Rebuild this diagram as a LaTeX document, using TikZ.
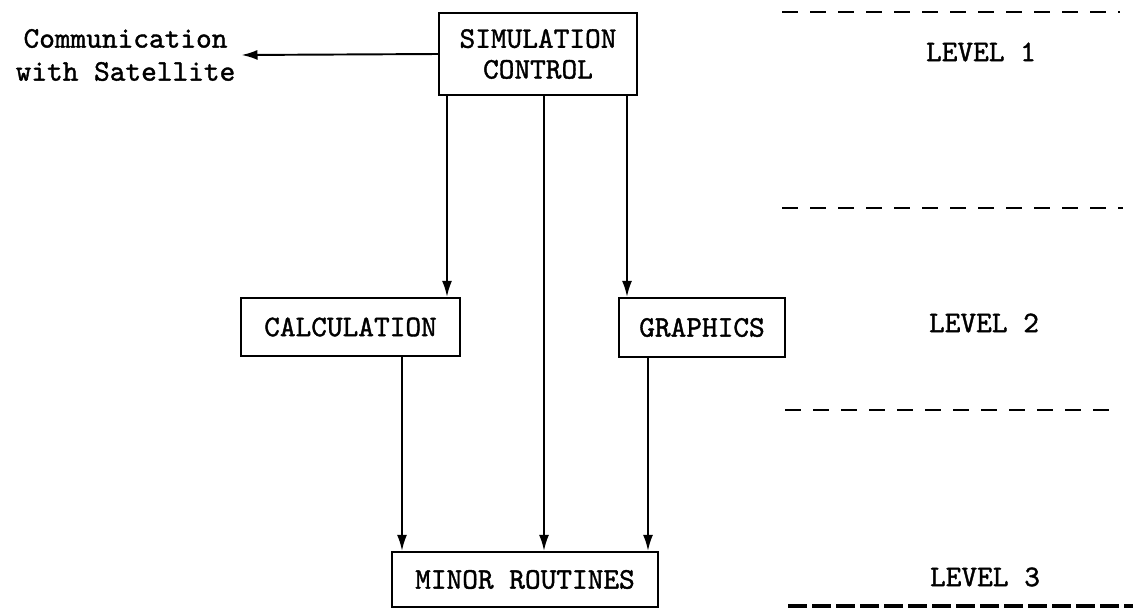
\documentclass[tikz,border=0pt]{standalone}
\usepackage{fontspec}
\setmonofont{lmmono10-regular.otf}[FakeBold=1.3]
\usepackage{tikz}
\usetikzlibrary{arrows.meta, positioning, calc}

\begin{document}
\begin{tikzpicture}[
  font=\ttfamily\fontsize{17}{17.5}\selectfont,
  boite/.style={draw, line width=1.3pt, align=center, inner sep=0pt},
  fleche/.style={line width=1.1pt, -{Latex[length=3.2mm, width=2mm]}},
  tirets/.style={line width=1.4pt, dash pattern=on 0.32cm off 0.24cm},
  niveau/.style={align=center}
]
  \useasboundingbox (0,0) rectangle (22.66,-12.18);
  % Boites
  \node[boite, minimum width=3.96cm, minimum height=1.64cm] (sim) at (10.76,-1.08) {SIMULATION\\CONTROL};
  \node[boite, minimum width=4.38cm, minimum height=1.16cm] (calc) at (7.01,-6.54) {CALCULATION};
  \node[boite, minimum width=3.32cm, minimum height=1.18cm] (graph) at (14.04,-6.55) {GRAPHICS};
  \node[boite, minimum width=5.32cm, minimum height=1.1cm] (minor) at (10.5,-11.59) {MINOR ROUTINES};
  \node[align=center, font=\ttfamily\fontsize{17}{18.8}\selectfont] (comm) at (2.51,-1.1) {Communication\\with Satellite};
  % Fleches
  \draw[fleche] (sim.west) -- (comm.east);
  \draw[fleche] (sim.south -| 8.94,0) -- (calc.north -| 8.94,0);
  \draw[fleche] (sim.south -| 10.88,0) -- (minor.north -| 10.88,0);
  \draw[fleche] (sim.south -| 12.54,0) -- (graph.north -| 12.54,0);
  \draw[fleche] (calc.south -| 8.04,0) -- (minor.north -| 8.04,0);
  \draw[fleche] (graph.south -| 12.96,0) -- (minor.north -| 12.96,0);
  % Niveaux
  \draw[tirets] (15.64,-0.24) -- (22.4,-0.24);
  \draw[tirets] (15.64,-4.16) -- (22.46,-4.16);
  \draw[tirets] (15.7,-8.2) -- (22.3,-8.2);
  \draw[line width=2.4pt, dash pattern=on 0.38cm off 0.1cm] (15.76,-12.12) -- (22.66,-12.12);
  \node[niveau] (niv1) at (19.62,-1.04) {LEVEL 1};
  \node[niveau] (niv2) at (19.68,-6.46) {LEVEL 2};
  \node[niveau] (niv3) at (19.7,-11.54) {LEVEL 3};
\end{tikzpicture}
\end{document}
